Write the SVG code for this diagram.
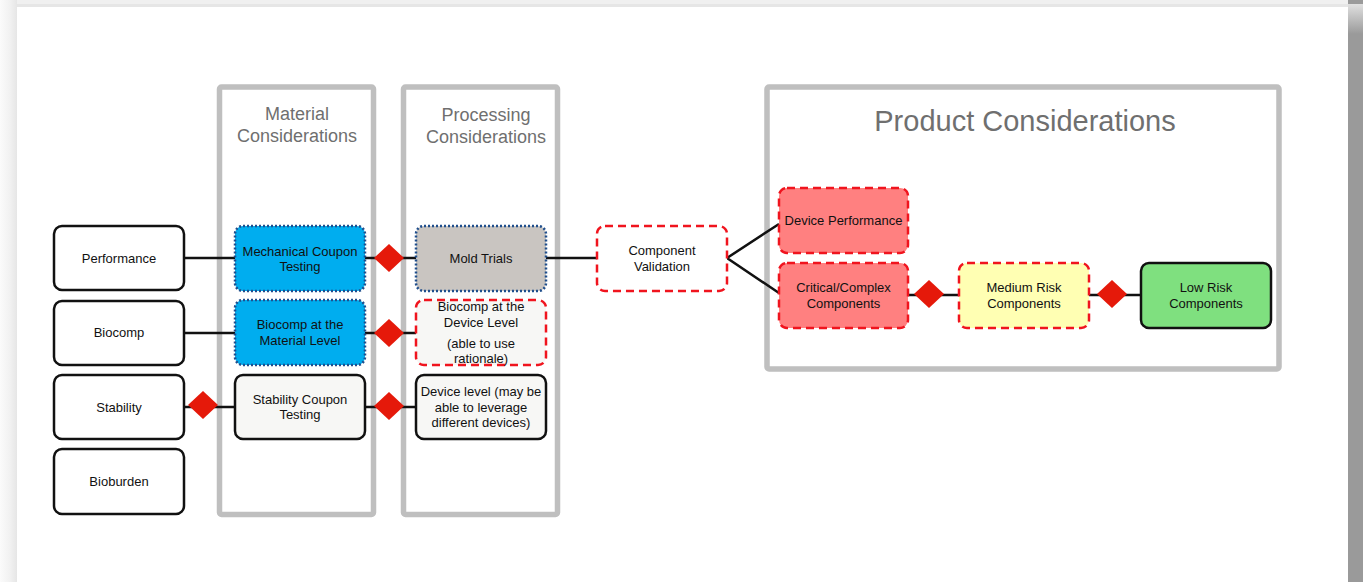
<svg xmlns="http://www.w3.org/2000/svg" width="1363" height="582" viewBox="0 0 1363 582">
<defs>
<linearGradient id="lg" x1="0" y1="0" x2="1" y2="0">
<stop offset="0" stop-color="#fbfbfb"/><stop offset="0.6" stop-color="#f1f1f1"/><stop offset="1" stop-color="#e6e6e6"/>
</linearGradient>
<linearGradient id="rg" x1="0" y1="0" x2="0" y2="1">
<stop offset="0" stop-color="#e0e0e0"/><stop offset="1" stop-color="#9a9a9a"/>
</linearGradient>
<polygon id="dia" points="-15,0 0,-14 15,0 0,14" fill="#e5190a"/>
<style>
.panel{fill:none;stroke:#bfbfbf;stroke-width:5.5}
.hdr{font-family:"Liberation Sans",Arial,sans-serif;fill:#6f6f6f;text-anchor:middle}
.t{font-family:"Liberation Sans",Arial,sans-serif;font-size:13px;fill:#111;text-anchor:middle}
.plain{fill:#fff;stroke:#111;stroke-width:2.5}
.grey{fill:#f7f7f5;stroke:#111;stroke-width:2.5}
.blue{fill:#00adef;stroke:#1f4e8c;stroke-width:2.5;stroke-dasharray:2 2}
.mold{fill:#c9c5c1;stroke:#1f4e8c;stroke-width:2.5;stroke-dasharray:2 2}
.reddash{stroke:#f0141e;stroke-width:2.5;stroke-dasharray:8 5}
.w{fill:#fff}.g{fill:#f7f7f5}.pink{fill:#ff8080}.yel{fill:#ffffb3}
.green{fill:#7fe07f;stroke:#111;stroke-width:2.5}
.ln{stroke:#111;stroke-width:2.5;fill:none}
</style>
</defs>
<rect x="0" y="0" width="1363" height="582" fill="#ffffff"/>
<rect x="0" y="0" width="1363" height="4" fill="#f0f0f0"/>
<rect x="0" y="4" width="1363" height="3" fill="#e6e6e6"/>
<rect x="0" y="0" width="17" height="582" fill="url(#lg)"/>
<rect x="1348" y="0" width="15" height="582" fill="#9a9a9a"/>
<rect x="1348" y="4" width="15" height="30" fill="url(#rg)"/>

<g id="panel-material">
<rect class="panel" x="219.5" y="87" width="154" height="427.5" rx="2"/>
<text class="hdr" font-size="18" x="297" y="120">Material</text>
<text class="hdr" font-size="18" x="297" y="142">Considerations</text>
</g>
<g id="panel-processing">
<rect class="panel" x="403.5" y="87" width="154" height="427.5" rx="2"/>
<text class="hdr" font-size="18" x="486" y="121">Processing</text>
<text class="hdr" font-size="18" x="486" y="143">Considerations</text>
</g>
<g id="panel-product">
<rect class="panel" x="767" y="87" width="512" height="282" rx="2"/>
<text class="hdr" font-size="29" x="1025" y="131">Product Considerations</text>
</g>

<g id="connectors">
<line class="ln" x1="184" y1="258" x2="235" y2="258"/>
<line class="ln" x1="184" y1="333" x2="235" y2="333"/>
<line class="ln" x1="184" y1="407" x2="235" y2="407"/>
<line class="ln" x1="365" y1="258" x2="416" y2="258"/>
<line class="ln" x1="365" y1="333" x2="416" y2="333"/>
<line class="ln" x1="365" y1="407" x2="416" y2="407"/>
<line class="ln" x1="546" y1="258" x2="597" y2="258"/>
<polyline class="ln" points="779,224 727,258 779,293"/>
<line class="ln" x1="908" y1="295" x2="959" y2="295"/>
<line class="ln" x1="1089" y1="295" x2="1141" y2="295"/>
<use href="#dia" x="203" y="405"/>
<use href="#dia" x="389" y="258"/>
<use href="#dia" x="389" y="333"/>
<use href="#dia" x="389" y="406"/>
<use href="#dia" x="929" y="294"/>
<use href="#dia" x="1112" y="294"/>
</g>

<g id="n-performance"><rect class="plain" x="54" y="226" width="130" height="64" rx="8"/><text class="t" x="119" y="263">Performance</text></g>
<g id="n-biocomp"><rect class="plain" x="54" y="301" width="130" height="64" rx="8"/><text class="t" x="119" y="337">Biocomp</text></g>
<g id="n-stability"><rect class="plain" x="54" y="375" width="130" height="64" rx="8"/><text class="t" x="119" y="412">Stability</text></g>
<g id="n-bioburden"><rect class="plain" x="54" y="449" width="130" height="65" rx="8"/><text class="t" x="119" y="486">Bioburden</text></g>

<g id="n-mech"><rect class="blue" x="235" y="226" width="130" height="65" rx="8"/><text class="t" x="300" y="256">Mechanical Coupon</text><text class="t" x="300" y="271">Testing</text></g>
<g id="n-biomat"><rect class="blue" x="235" y="300" width="130" height="65" rx="8"/><text class="t" x="300" y="329">Biocomp at the</text><text class="t" x="300" y="345">Material Level</text></g>
<g id="n-stabcoupon"><rect class="grey" x="235" y="375" width="130" height="64" rx="8"/><text class="t" x="300" y="404">Stability Coupon</text><text class="t" x="300" y="419">Testing</text></g>

<g id="n-mold"><rect class="mold" x="416" y="226" width="130" height="65" rx="8"/><text class="t" x="481" y="263">Mold Trials</text></g>
<g id="n-biodev"><rect class="reddash g" x="416" y="300" width="130" height="65" rx="8"/><text class="t" x="481" y="311">Biocomp at the</text><text class="t" x="481" y="327">Device Level</text><text class="t" x="481" y="348">(able to use</text><text class="t" x="481" y="363">rationale)</text></g>
<g id="n-devlevel"><rect class="grey" x="416" y="375" width="130" height="64" rx="8"/><text class="t" x="481" y="396">Device level (may be</text><text class="t" x="481" y="412">able to leverage</text><text class="t" x="481" y="427">different devices)</text></g>

<g id="n-compval"><rect class="reddash w" x="597" y="226" width="130" height="65" rx="8"/><text class="t" x="662" y="255">Component</text><text class="t" x="662" y="271">Validation</text></g>

<g id="n-devperf"><rect class="reddash pink" x="779" y="188" width="129" height="65" rx="8"/><text class="t" x="843.5" y="225">Device Performance</text></g>
<g id="n-critical"><rect class="reddash pink" x="779" y="263" width="129" height="65" rx="8"/><text class="t" x="843.5" y="292">Critical/Complex</text><text class="t" x="843.5" y="308">Components</text></g>
<g id="n-medium"><rect class="reddash yel" x="959" y="263" width="130" height="65" rx="8"/><text class="t" x="1024" y="292">Medium Risk</text><text class="t" x="1024" y="308">Components</text></g>
<g id="n-low"><rect class="green" x="1141" y="263" width="130" height="65" rx="8"/><text class="t" x="1206" y="292">Low Risk</text><text class="t" x="1206" y="308">Components</text></g>
</svg>
